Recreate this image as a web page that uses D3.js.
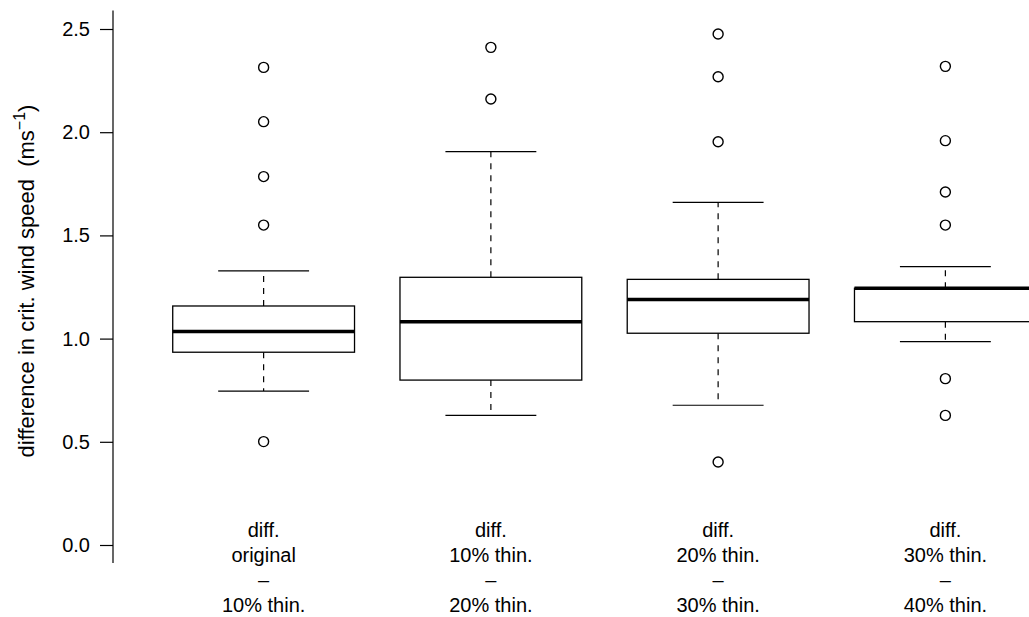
<!DOCTYPE html>
<html>
<head>
<meta charset="utf-8">
<script src="https://cdn.jsdelivr.net/npm/d3@7"></script>
<style>
  body { margin: 0; background: #fff; }
  text { font-family: "Liberation Sans", Arial, sans-serif; fill: #000; }
</style>
</head>
<body>
<script>
// Group labels (multi-line, as in R boxplot names)
const groupLabels = [
    ["diff.", "original", "\u2013", "10% thin."],
    ["diff.", "10% thin.", "\u2013", "20% thin."],
    ["diff.", "20% thin.", "\u2013", "30% thin."],
    ["diff.", "30% thin.", "\u2013", "40% thin."]
];
const groupIds = ["g1", "g2", "g3", "g4"];

// Box statistics
const whiskerLow  = [0.746, 0.628, 0.677, 0.985];
const lowerQ      = [0.934, 0.799, 1.026, 1.082];
const medians     = [1.034, 1.082, 1.190, 1.244];
const upperQ      = [1.158, 1.297, 1.287, 1.244];
const whiskerHigh = [1.328, 1.906, 1.660, 1.349];
const outliers = [
    [2.314, 2.051, 1.785, 1.550, 0.501],
    [2.411, 2.161],
    [2.476, 2.269, 1.954, 0.402],
    [2.319, 1.959, 1.710, 1.550, 0.806, 0.628]
];

const yTicks = [0, 0.5, 1.0, 1.5, 2.0, 2.5];

const width = 1029, height = 617;

const svg = d3.select("body").append("svg")
    .attr("width", width)
    .attr("height", height);

// Scales
const x = d3.scalePoint()
    .domain(groupIds)
    .range([150, 1059])
    .padding(0.5);

const y = d3.scaleLinear()
    .domain([0, 2.5])
    .range([545, 29]);

const boxWidth = x.step() * 0.8;
const capWidth = boxWidth / 2;

// Y axis
const yAxis = svg.append("g")
    .attr("transform", "translate(113,0)")
    .call(d3.axisLeft(y)
        .tickValues(yTicks)
        .tickFormat(d3.format(".1f"))
        .tickSize(13)
        .tickPadding(10));

yAxis.select(".domain").remove();
yAxis.selectAll(".tick line").attr("stroke", "#000").attr("stroke-width", 1.2);
yAxis.selectAll(".tick text")
    .style("font-size", "20px")
    .style("font-family", "Liberation Sans, Arial, sans-serif");

// axis line spans the whole plot region (R style, slightly past the ticks)
svg.append("line")
    .attr("x1", 113).attr("x2", 113)
    .attr("y1", y(2.59)).attr("y2", y(-0.087))
    .attr("stroke", "#000")
    .attr("stroke-width", 1.2);

// Y axis title
const title = svg.append("text")
    .attr("transform", "translate(34," + 281 + ") rotate(-90)")
    .attr("text-anchor", "middle")
    .style("font-size", "22px")
    .style("white-space", "pre");
title.append("tspan").text("difference in crit. wind speed  (ms");
title.append("tspan").attr("dy", -9).style("font-size", "16px").text("\u22121");
title.append("tspan").attr("dy", 9).text(")");

// Boxes
groupIds.forEach((g, i) => {
    const cx = x(g);

    // dashed whiskers
    [[lowerQ[i], whiskerLow[i]], [upperQ[i], whiskerHigh[i]]].forEach(([a, b]) => {
        svg.append("line")
            .attr("x1", cx).attr("x2", cx)
            .attr("y1", y(a)).attr("y2", y(b))
            .attr("stroke", "#000")
            .attr("stroke-width", 1.2)
            .attr("stroke-dasharray", "6,6");
    });

    // whisker caps
    [whiskerLow[i], whiskerHigh[i]].forEach(v => {
        svg.append("line")
            .attr("x1", cx - capWidth / 2).attr("x2", cx + capWidth / 2)
            .attr("y1", y(v)).attr("y2", y(v))
            .attr("stroke", "#000")
            .attr("stroke-width", 1.2);
    });

    // box
    svg.append("rect")
        .attr("x", cx - boxWidth / 2)
        .attr("y", y(upperQ[i]))
        .attr("width", boxWidth)
        .attr("height", y(lowerQ[i]) - y(upperQ[i]))
        .attr("fill", "#fff")
        .attr("stroke", "#000")
        .attr("stroke-width", 1.3);

    // median
    svg.append("line")
        .attr("x1", cx - boxWidth / 2).attr("x2", cx + boxWidth / 2)
        .attr("y1", y(medians[i])).attr("y2", y(medians[i]))
        .attr("stroke", "#000")
        .attr("stroke-width", 3.5);

    // outliers
    svg.selectAll(".out" + i)
        .data(outliers[i])
        .enter().append("circle")
        .attr("class", "out" + i)
        .attr("cx", cx)
        .attr("cy", d => y(d))
        .attr("r", 5)
        .attr("fill", "none")
        .attr("stroke", "#000")
        .attr("stroke-width", 1.4);

    // group label
    const lab = svg.append("text")
        .attr("text-anchor", "middle")
        .style("font-size", "20px");
    groupLabels[i].forEach((line, k) => {
        lab.append("tspan")
            .attr("x", cx)
            .attr("y", 537 + k * 25)
            .text(line);
    });
});
</script>
</body>
</html>
